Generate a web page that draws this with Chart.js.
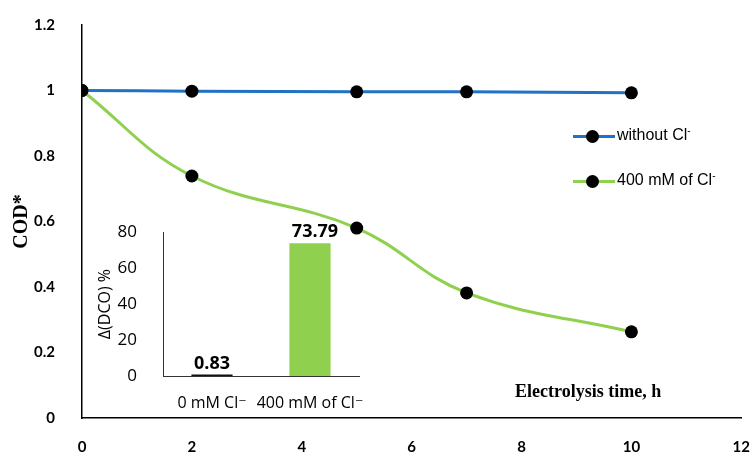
<!DOCTYPE html>
<html>
<head>
<meta charset="utf-8">
<script src="https://cdn.jsdelivr.net/npm/chart.js@4.4.1/dist/chart.umd.min.js"></script>
<style>
  html, body { margin: 0; padding: 0; background: #fff; }
  #wrap { position: relative; width: 753px; height: 456px; overflow: hidden; }
  #main { position: absolute; left: 0; top: -3px; }
  #inset { position: absolute; left: 85px; top: 204px; }
  .xtitle { position: absolute; left: 515px; top: 381px; font: bold 18px "Liberation Serif", "Times New Roman", serif; color: #000; white-space: nowrap; }
  .legend { position: absolute; left: 573px; font: 16px "Liberation Sans", Arial, sans-serif; color: #000; white-space: nowrap; }
  .legend .sw { position: absolute; left: 0; top: 0; width: 42px; height: 3px; }
  .legend .dot { position: absolute; left: 13px; top: -5px; width: 13px; height: 13px; border-radius: 50%; background: #000; }
  .legend .txt { position: absolute; left: 44px; top: -10px; }
  .legend sup { font-size: 10px; vertical-align: 6px; }
</style>
</head>
<body>
<div id="wrap">
  <canvas id="main" width="762" height="459"></canvas>
  <canvas id="inset" width="295" height="211"></canvas>
  <div class="xtitle">Electrolysis time, h</div>
  <div class="legend" style="top:135px"><div class="sw" style="background:#1F72C4"></div><div class="dot"></div><div class="txt">without Cl<sup>-</sup></div></div>
  <div class="legend" style="top:180px"><div class="sw" style="background:#8FD14F"></div><div class="dot"></div><div class="txt">400 mM of Cl<sup>-</sup></div></div>
</div>
<script>
// Electrolysis time (h) and normalised COD for each condition
const timeHours = [0, 2, 5, 7, 10];
const codWithoutCl = [1.0, 0.998, 0.996, 0.996, 0.993];
const cod400mMCl = [1.0, 0.739, 0.58, 0.382, 0.263];

// COD removal (%) after electrolysis, by chloride concentration
const removalCategories = ['0 mM Cl\u207B', '400 mM of Cl\u207B'];
const removalPercent = [0.83, 73.79];

const BLUE = '#1F72C4';
const GREEN = '#8FD14F';

const toPoints = (xs, ys) => xs.map((x, i) => ({ x: x, y: ys[i] }));

new Chart(document.getElementById('main'), {
  type: 'line',
  data: {
    datasets: [
      {
        label: 'without Cl-',
        data: toPoints(timeHours, codWithoutCl),
        borderColor: BLUE,
        borderWidth: 3,
        tension: 0.4,
        pointRadius: 6.5,
        pointBackgroundColor: '#000',
        pointBorderColor: '#000',
        pointBorderWidth: 0
      },
      {
        label: '400 mM of Cl-',
        data: toPoints(timeHours, cod400mMCl),
        borderColor: GREEN,
        borderWidth: 3,
        tension: 0.4,
        pointRadius: 6.5,
        pointBackgroundColor: '#000',
        pointBorderColor: '#000',
        pointBorderWidth: 0
      }
    ]
  },
  options: {
    responsive: false,
    animation: false,
    layout: { padding: { left: 0, top: 18, right: 0, bottom: 0 } },
    plugins: { legend: { display: false }, tooltip: { enabled: false } },
    scales: {
      x: {
        type: 'linear',
        min: 0, max: 12,
        grid: { display: false },
        border: { display: true, color: '#000', width: 1.5 },
        ticks: { stepSize: 2, color: '#000', padding: 12, maxRotation: 0,
                 font: { family: 'Lato, "Liberation Sans", sans-serif', size: 15, weight: 'bold' } },
        afterFit: (s) => { s.height = 38; }
      },
      y: {
        min: 0, max: 1.2,
        grid: { display: false },
        border: { display: true, color: '#000', width: 1.5 },
        ticks: { stepSize: 0.2, color: '#000', padding: 19,
                 font: { family: 'Lato, "Liberation Sans", sans-serif', size: 15, weight: 'bold' },
                 callback: (v) => Number(v.toFixed(1)).toString() },
        title: { display: true, text: 'COD*', color: '#000', padding: { top: 10, bottom: 0 },
                 font: { family: '"Liberation Serif", "Times New Roman", serif', size: 20, weight: 'bold' } },
        afterFit: (s) => { s.width = 82; }
      }
    }
  }
});

// Value labels above the inset bars
const barValueLabels = {
  id: 'barValueLabels',
  afterDatasetsDraw(chart) {
    const ctx = chart.ctx;
    const meta = chart.getDatasetMeta(0);
    ctx.save();
    ctx.fillStyle = '#000';
    ctx.font = 'bold 18px "Open Sans", "Liberation Sans", sans-serif';
    ctx.textAlign = 'center';
    ctx.textBaseline = 'bottom';
    meta.data.forEach((bar, i) => {
      ctx.fillText(removalPercent[i].toFixed(2), bar.x + (i === 1 ? 5 : 0), bar.y - 2);
    });
    ctx.restore();
  }
};

new Chart(document.getElementById('inset'), {
  type: 'bar',
  data: {
    labels: removalCategories,
    datasets: [{
      data: removalPercent,
      backgroundColor: ['#111', GREEN],
      barPercentage: 0.84,
      categoryPercentage: 0.5
    }]
  },
  plugins: [barValueLabels],
  options: {
    responsive: false,
    animation: false,
    layout: { padding: { left: 0, top: 22, right: 21, bottom: 0 } },
    plugins: { legend: { display: false }, tooltip: { enabled: false } },
    scales: {
      x: {
        grid: { display: false },
        border: { display: true, color: '#333', width: 1 },
        ticks: { color: '#000', padding: 10, maxRotation: 0, autoSkip: false,
                 font: { family: '"Open Sans", "DejaVu Sans", sans-serif', size: 16 } },
        afterFit: (s) => { s.height = 39; }
      },
      y: {
        min: 0, max: 80,
        grid: { display: false },
        border: { display: true, color: '#333', width: 1 },
        ticks: { stepSize: 20, color: '#000', padding: 18,
                 font: { family: '"Open Sans", "DejaVu Sans", sans-serif', size: 17 } },
        title: { display: true, text: '\u0394(DCO) %', color: '#000', padding: { top: 11, bottom: 0 },
                 font: { family: '"Open Sans", "DejaVu Sans", sans-serif', size: 16 } },
        afterFit: (s) => { s.width = 78; }
      }
    }
  }
});
</script>
</body>
</html>
